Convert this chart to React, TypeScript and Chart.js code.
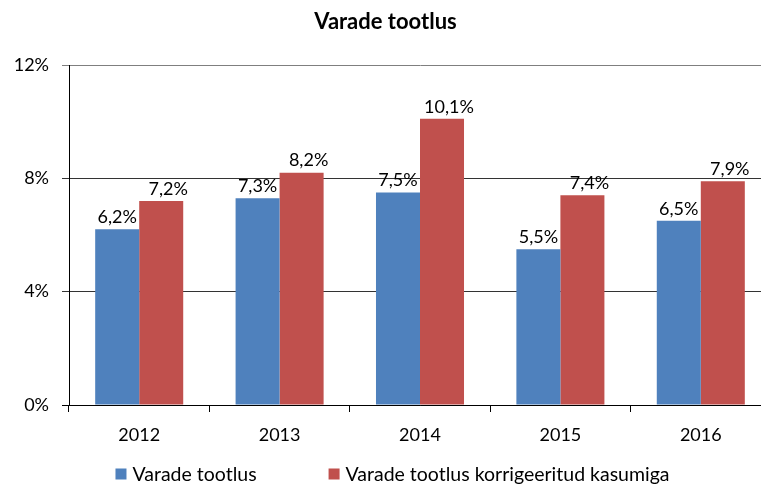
import React, { useEffect, useRef } from "react";
import { Chart, registerables } from "chart.js";

Chart.register(...registerables);

const categories = ["2012", "2013", "2014", "2015", "2016"];
const seriesNames = ["Varade tootlus", "Varade tootlus korrigeeritud kasumiga"];
const seriesA = [6.2, 7.3, 7.5, 5.5, 6.5];
const seriesB = [7.2, 8.2, 10.1, 7.4, 7.9];
const yTicks = [0, 4, 8, 12];
const colors = ["#4F81BD", "#C0504D"];

const FONT = "Lato, 'DejaVu Sans', sans-serif";

const fmt = (v: number) => v.toFixed(1).replace(".", ",") + "%";

const valueLabels = {
  id: "valueLabels",
  afterDatasetsDraw(chart: any) {
    const ctx = chart.ctx;
    ctx.save();
    ctx.font = `18px ${FONT}`;
    ctx.fillStyle = "#000";
    ctx.textAlign = "center";
    ctx.textBaseline = "bottom";
    chart.data.datasets.forEach((ds: any, di: number) => {
      const meta = chart.getDatasetMeta(di);
      const off = di === 1 ? 7 : 0;
      meta.data.forEach((bar: any, i: number) => {
        ctx.fillText(fmt(ds.data[i]), bar.x + off, bar.y - 3);
      });
    });
    ctx.restore();
  },
};

const customLegend = {
  id: "customLegend",
  afterDraw(chart: any) {
    const ctx = chart.ctx;
    ctx.save();
    ctx.font = `19.5px ${FONT}`;
    ctx.textBaseline = "middle";
    ctx.textAlign = "left";
    const box = 11;
    const gapBoxText = 6;
    const gapItems = 72;
    const items = chart.data.datasets.map((ds: any) => ({
      label: ds.label,
      color: ds.backgroundColor,
      w: box + gapBoxText + ctx.measureText(ds.label).width,
    }));
    const total = items.reduce((s: number, it: any) => s + it.w, 0) + gapItems * (items.length - 1);
    let x = chart.width / 2 - total / 2;
    const y = 474;
    items.forEach((it: any) => {
      ctx.fillStyle = it.color;
      ctx.fillRect(x, y - box / 2, box, box);
      ctx.fillStyle = "#000";
      ctx.fillText(it.label, x + box + gapBoxText, y + 1);
      x += it.w + gapItems;
    });
    ctx.restore();
  },
};

export default function App() {
  const ref = useRef<HTMLCanvasElement | null>(null);
  useEffect(() => {
    if (!ref.current) return;
    const chart = new Chart(ref.current, {
      type: "bar",
      data: {
        labels: categories,
        datasets: [
          { label: seriesNames[0], data: seriesA, backgroundColor: colors[0], borderWidth: 0 },
          { label: seriesNames[1], data: seriesB, backgroundColor: colors[1], borderWidth: 0 },
        ],
      },
      options: {
        responsive: false,
        animation: false,
        maintainAspectRatio: false,
        datasets: { bar: { barPercentage: 1, categoryPercentage: 0.627 } },
        layout: { padding: { left: 0, right: 14, top: 0, bottom: 36 } },
        plugins: {
          legend: { display: false },
          tooltip: { enabled: false },
          title: {
            display: true,
            text: "Varade tootlus",
            color: "#000",
            font: { family: FONT, size: 22, weight: "bold" },
            padding: { top: 9, bottom: 29.6 },
          },
        },
        scales: {
          x: {
            grid: {
              display: true,
              drawOnChartArea: false,
              drawTicks: true,
              tickLength: 7,
              tickColor: "#000",
              offset: true,
            },
            border: { display: true, color: "#000", width: 1 },
            ticks: { color: "#000", font: { family: FONT, size: 18 }, padding: 12 },
            afterFit: (s: any) => {
              s.height = 45;
            },
          },
          y: {
            min: 0,
            max: 12,
            afterBuildTicks: (s: any) => {
              s.ticks = yTicks.map((v) => ({ value: v }));
            },
            grid: {
              color: (c: any) => (c.tick && c.tick.value === 12 ? "#7f7f7f" : c.tick && c.tick.value === 0 ? "#000" : "#333"),
              tickLength: 7,
              drawTicks: true,
            },
            border: { display: true, color: "#000", width: 1 },
            ticks: {
              color: "#000",
              font: { family: FONT, size: 18 },
              padding: 13,
              callback: (v: any) => v + "%",
            },
            afterFit: (s: any) => {
              s.width = 69;
            },
          },
        },
      },
      plugins: [valueLabels, customLegend],
    } as any);
    return () => chart.destroy();
  }, []);
  return (
    <div style={{ position: "fixed", left: 0, top: 0, width: 761, height: 486, overflow: "hidden", background: "#fff" }}>
      <canvas ref={ref} width={785} height={486} style={{ width: 785, height: 486, display: "block" }} />
    </div>
  );
}
